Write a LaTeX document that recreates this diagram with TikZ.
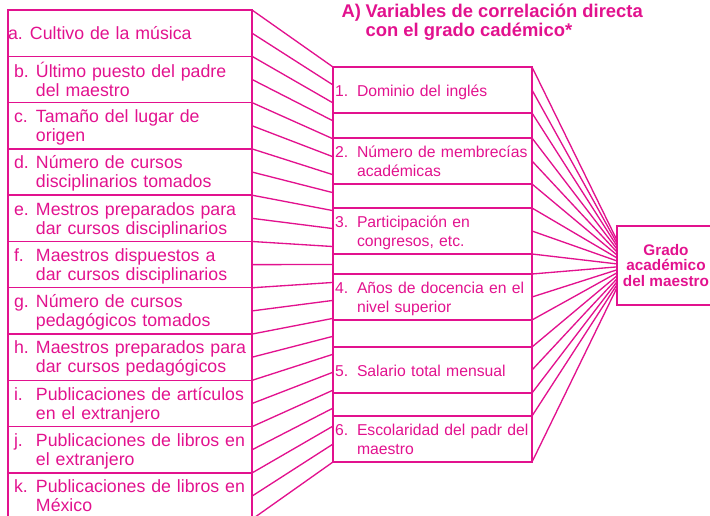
\documentclass[tikz,border=0pt]{standalone}
\usepackage{fontspec}
\setmainfont{Liberation Sans}
\usepackage{xcolor}
\usepackage{tikz}
\usetikzlibrary{positioning,calc}
\definecolor{rosa}{RGB}{226,18,142}
\newcommand{\itm}[2]{\raisebox{-1.8pt}[\height][\depth]{\begin{tabular}{@{}p{16.5pt}@{}l@{}}#1 & #2\end{tabular}}}
\tikzstyle{lbox}=[draw=rosa, line width=1pt, anchor=north west, outer sep=0pt, inner xsep=4.5pt, inner ysep=0pt, text width=174pt, minimum width=183pt, minimum height=34.7pt, align=left, text=rosa, font=\fontsize{13.3}{14.3}\selectfont]
\tikzstyle{mbox}=[draw=rosa, line width=1pt, anchor=north west, outer sep=0pt, inner xsep=1.5pt, inner ysep=0pt, text width=146.25pt, minimum width=149.25pt, minimum height=34.5pt, align=left, text=rosa, font=\fontsize{11.8}{14.3}\selectfont]
\tikzstyle{gbox}=[draw=rosa, line width=1pt, anchor=north west, outer sep=0pt, minimum width=73.5pt, minimum height=59.25pt, align=center, text=rosa, font=\bfseries\fontsize{11.5}{11.6}\selectfont]

\begin{document}
\begin{tikzpicture}[x=0.75pt, y=-0.75pt, line width=1pt]
  \useasboundingbox (0,0) rectangle (710,516);
  \clip (0,0) rectangle (710,516);

  % titulo
  \node[anchor=north west, inner sep=0pt, text=rosa, font=\bfseries\fontsize{13.8}{13.5}\selectfont] (titulo) at (341,3)
    {\begin{tabular}{@{}p{18pt}@{}l@{}}A) & Variables de correlación directa\\ & con el grado cadémico*\end{tabular}};

  % columna izquierda
  \node[lbox] (a) at (8,10) {\hspace*{-4.5pt}\itm{a.}{Cultivo de la música}};
  \node[lbox] (b) at (8,56.3) {\itm{b.}{Último puesto del padre\\ & del maestro}};
  \node[lbox] (c) at (8,102.6) {\itm{c.}{Tamaño del lugar de\\ & origen}};
  \node[lbox] (d) at (8,148.9) {\itm{d.}{Número de cursos\\ & disciplinarios tomados}};
  \node[lbox] (e) at (8,195.2) {\itm{e.}{Mestros preparados para\\ & dar cursos disciplinarios}};
  \node[lbox] (f) at (8,241.5) {\itm{f.}{Maestros dispuestos a\\ & dar cursos disciplinarios}};
  \node[lbox] (g) at (8,287.8) {\itm{g.}{Número de cursos\\ & pedagógicos tomados}};
  \node[lbox] (h) at (8,334.1) {\itm{h.}{Maestros preparados para\\ & dar cursos pedagógicos}};
  \node[lbox] (i) at (8,380.4) {\itm{i.}{Publicaciones de artículos\\ & en el extranjero}};
  \node[lbox] (j) at (8,426.7) {\itm{j.}{Publicaciones de libros en\\ & el extranjero}};
  \node[lbox] (k) at (8,473.0) {\itm{k.}{Publicaciones de libros en\\ & México}};

  % columna central
  \node[mbox] (m1) at (333,67) {\itm{1.}{Dominio del inglés}};
  \node[mbox] (m2) at (333,138) {\itm{2.}{Número de membrecías\\ & académicas}};
  \node[mbox] (m3) at (333,208) {\itm{3.}{Participación en\\ & congresos, etc.}};
  \node[mbox] (m4) at (333,274) {\itm{4.}{Años de docencia en el\\ & nivel superior}};
  \node[mbox] (m5) at (333,347) {\itm{5.}{Salario total mensual}};
  \node[mbox] (m6) at (333,416) {\itm{6.}{Escolaridad del padr del\\ & maestro}};
  \foreach \p/\q in {m1/m2,m2/m3,m3/m4,m4/m5,m5/m6} {
    \draw[rosa] (\p.south west) -- (\q.north west);
    \draw[rosa] (\p.south east) -- (\q.north east);
  }

  % grado
  \node[gbox] (grado) at (617,226) {Grado\\académico\\del maestro};

  % lineas izquierda -> centro
  \foreach \t in {0,...,22}
    \draw[rosa] ($(a.north east)!{\t/22}!(k.south east)$) -- ($(m1.north west)!{\t/22}!(m6.south west)$);

  % lineas centro -> grado
  \foreach \s [count=\n from 0] in {m1.north east,m1.east,m1.south east,m2.north east,m2.east,m2.south east,m3.north east,m3.east,m3.south east,m4.north east,m4.east,m4.south east,m5.north east,m5.east,m5.south east,m6.north east,m6.south east}
    \draw[rosa] (\s) -- ($(grado.north west)!{0.18+0.0375*\n}!(grado.south west)$);
\end{tikzpicture}
\end{document}
